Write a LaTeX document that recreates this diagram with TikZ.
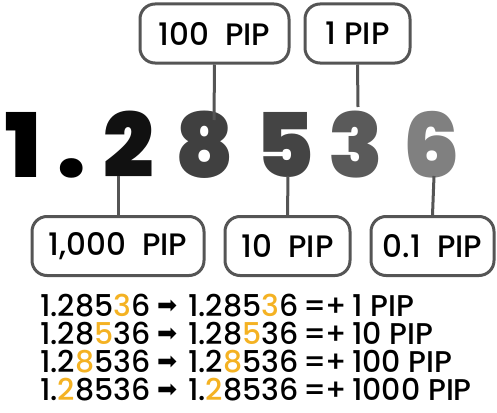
\documentclass[tikz,border=0pt]{standalone}
\usepackage{fontspec}
\IfFontExistsTF{Poppins Medium}{\setmainfont{Poppins Medium}}{\setmainfont{Poppins}}
\IfFontExistsTF{Poppins Black}{\newfontfamily\bigfont{Poppins Black}}{\newfontfamily\bigfont{Poppins}[FakeBold=4]}
\newfontfamily\symfont{DejaVu Sans}
\definecolor{boxgray}{HTML}{555555}
\definecolor{pipor}{HTML}{F4B223}
\definecolor{dA}{HTML}{000000}
\definecolor{dB}{HTML}{111111}
\definecolor{dC}{HTML}{404040}
\definecolor{dD}{HTML}{444444}
\definecolor{dE}{HTML}{5A5A5A}
\definecolor{dF}{HTML}{808080}
\newcommand{\hl}[1]{\textcolor{pipor}{#1}}
\begin{document}
\begin{tikzpicture}[x=1pt,y=-1pt,
  pipbox/.style={draw=boxgray,line width=3pt,rounded corners=15pt,minimum height=59pt,inner sep=0pt,font=\fontsize{31}{31}\selectfont},
  conn/.style={draw=boxgray,line width=3pt},
  bigd/.style={inner sep=0pt,anchor=base west,font=\bigfont\fontsize{89}{89}\selectfont},
  row/.style={inner sep=0pt,anchor=base west,text height=21pt,text depth=0pt,font=\fontsize{30}{30}\selectfont},
  arr/.style={inner sep=0pt,anchor=base west,text height=10pt,text depth=0pt,font=\symfont\fontsize{24}{24}\selectfont}]
\useasboundingbox (0,0) rectangle (497,412);
% top boxes
\node[pipbox,minimum width=149pt] (b100) at (214.5,33.5) {100\ \ PIP};
\node[pipbox,minimum width=105pt] (b1) at (357.5,33.5) {1 PIP};
% bottom boxes
\node[pipbox,minimum width=172pt] (b1000) at (118,246) {1,000\ \ PIP};
\node[pipbox,minimum width=125pt] (b10) at (287.5,246) {10\ \ PIP};
\node[pipbox,minimum width=123pt] (b01) at (432.5,246) {0.1\ \ PIP};
% big number
\node[bigd,text=dA] (d1) at (5,177) {1};
\node[bigd,text=dA] (dp) at (57,177) {.};
\node[bigd,text=dB] (d2) at (103,177) {2};
\node[bigd,text=dC] (d8) at (175,177) {8};
\node[bigd,text=dD] (d5) at (255,177) {5};
\node[bigd,text=dE] (d3) at (328,177) {3};
\node[bigd,text=dF] (d6) at (403,177) {6};
% connector ends
\coordinate (e100) at (214,120);
\coordinate (e1) at (358,107);
\coordinate (e1000) at (118,176);
\coordinate (e10) at (288,176);
\coordinate (e01) at (434,176);
\draw[conn] (b100.south) -- (e100);
\draw[conn] (b1.south) -- (e1);
\draw[conn] (b1000.north) -- (e1000);
\draw[conn] (b10.north) -- (e10);
\draw[conn] (b01.north) -- (e01);
% rows
\foreach \i/\y/\a/\r in {1/316/{1.285\hl{3}6}/{1 PIP},2/344/{1.28\hl{5}36}/{10 PIP},3/372/{1.2\hl{8}536}/{100 PIP},4/400/{1.\hl{2}8536}/{1000 PIP}}{
  \node[row] (ra\i) at (40,\y) {\a};
  \node[arr] (rr\i) at (157,\y-3) {➡};
  \node[row] (rb\i) at (188,\y) {\a};
  \node[row] (re\i) at (303,\y) {=\kern-1pt+};
  \node[row] (rp\i) at (352,\y) {\r};
}
\end{tikzpicture}
\end{document}
